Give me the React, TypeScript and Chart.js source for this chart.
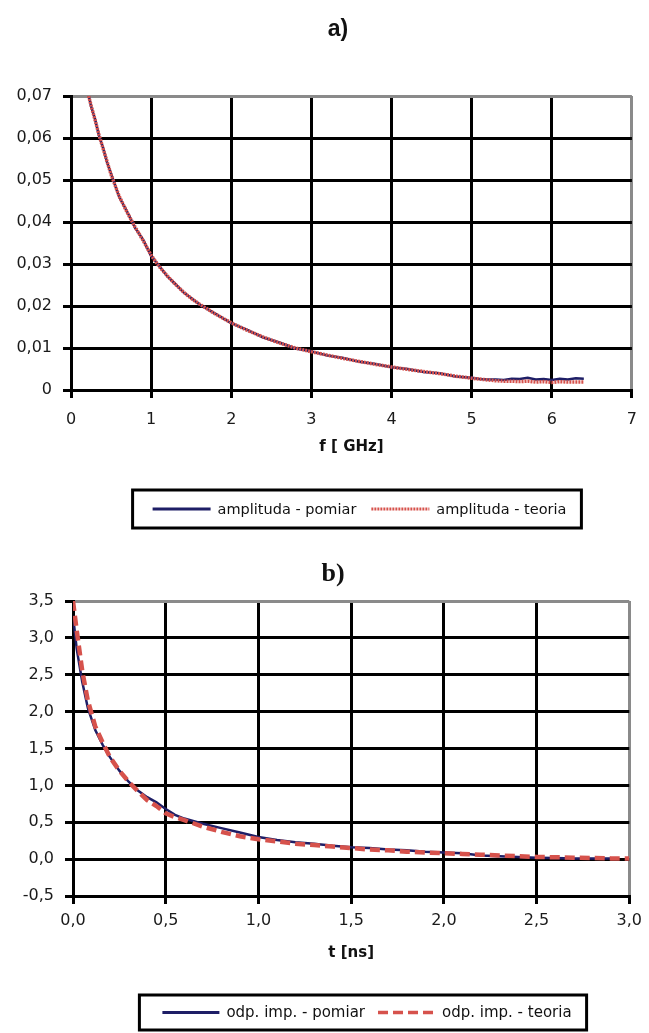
import React, { useEffect, useRef } from 'react';
import { Chart, registerables } from 'chart.js';

Chart.register(...registerables);

// ---------- Chart a) data ----------
const titleA = 'a)';
const xTitleA = 'f [ GHz]';
const seriesNamesA = ['amplituda - pomiar', 'amplituda - teoria'];
const freqGHz = [
  0.22, 0.25, 0.3, 0.35, 0.4, 0.45, 0.5, 0.6, 0.7, 0.8, 0.9, 1.0, 1.1, 1.2, 1.3, 1.4, 1.5, 1.6, 1.8, 2.0,
  2.2, 2.4, 2.6, 2.8, 3.0, 3.2, 3.4, 3.6, 3.8, 4.0, 4.2, 4.4, 4.6, 4.8, 5.0, 5.1, 5.2, 5.3, 5.4, 5.5,
  5.6, 5.7, 5.8, 5.9, 6.0, 6.1, 6.2, 6.3, 6.4,
];
const ampMeasured = [
  0.0702, 0.0676, 0.0645, 0.0605, 0.0577, 0.0542, 0.0515, 0.0460, 0.0425, 0.0386, 0.0358, 0.0319, 0.0296, 0.0271, 0.0253, 0.0233, 0.0219, 0.0204, 0.0182, 0.0159,
  0.0143, 0.0125, 0.0113, 0.0099, 0.0092, 0.0082, 0.0076, 0.0067, 0.0062, 0.0054, 0.0050, 0.0043, 0.0040, 0.0032, 0.0029, 0.0026, 0.0025, 0.0025, 0.0024, 0.0027,
  0.0026, 0.0029, 0.0025, 0.0026, 0.0024, 0.0027, 0.0025, 0.0028, 0.0027,
];
const ampTheory = [
  0.0700, 0.0678, 0.0643, 0.0607, 0.0575, 0.0544, 0.0513, 0.0462, 0.0423, 0.0388, 0.0356, 0.0321, 0.0294, 0.0272, 0.0252, 0.0234, 0.0218, 0.0205, 0.0181, 0.0160,
  0.0142, 0.0126, 0.0112, 0.0100, 0.0091, 0.0083, 0.0075, 0.0068, 0.0061, 0.0055, 0.0049, 0.0044, 0.0039, 0.0033, 0.0028, 0.0026, 0.0024, 0.0022, 0.0021, 0.0021,
  0.0020, 0.0021, 0.0019, 0.0020, 0.0018, 0.0020, 0.0019, 0.0019, 0.0019,
];
const xTicksA = ['0', '1', '2', '3', '4', '5', '6', '7'];
const yTicksA = ['0', '0,01', '0,02', '0,03', '0,04', '0,05', '0,06', '0,07'];

// ---------- Chart b) data ----------
const titleB = 'b)';
const xTitleB = 't [ns]';
const seriesNamesB = ['odp. imp. - pomiar', 'odp. imp. - teoria'];
const timeMeasured = [
  0.0, 0.02, 0.05, 0.08, 0.12, 0.16, 0.2, 0.25, 0.3, 0.35, 0.4, 0.45, 0.5, 0.55, 0.6, 0.7, 0.8, 0.9, 1.0, 1.1,
  1.2, 1.3, 1.4, 1.5, 1.6, 1.7, 1.8, 1.9, 2.0, 2.1, 2.2, 2.3, 2.4, 2.5, 2.6, 2.7, 2.8, 2.9,
];
const impMeasured = [
  3.3, 2.85, 2.4, 2.05, 1.75, 1.55, 1.38, 1.2, 1.05, 0.93, 0.84, 0.77, 0.68, 0.6, 0.55, 0.48, 0.42, 0.36, 0.3, 0.26,
  0.23, 0.21, 0.18, 0.16, 0.15, 0.13, 0.12, 0.1, 0.09, 0.08, 0.05, 0.04, 0.03, 0.02, 0.015, 0.01, 0.01, 0.01,
];
const timeTheory = [
  0.0, 0.02, 0.05, 0.08, 0.12, 0.16, 0.2, 0.25, 0.3, 0.35, 0.4, 0.45, 0.5, 0.55, 0.6, 0.7, 0.8, 0.9, 1.0, 1.1,
  1.2, 1.3, 1.4, 1.5, 1.6, 1.7, 1.8, 1.9, 2.0, 2.1, 2.2, 2.3, 2.4, 2.5, 2.6, 2.7, 2.8, 2.9, 3.0,
];
const impTheory = [
  3.5, 3.1, 2.55, 2.15, 1.8, 1.58, 1.38, 1.2, 1.05, 0.92, 0.8, 0.72, 0.62, 0.57, 0.53, 0.44, 0.37, 0.31, 0.27, 0.24,
  0.21, 0.19, 0.17, 0.15, 0.13, 0.12, 0.1, 0.09, 0.08, 0.07, 0.06, 0.05, 0.04, 0.03, 0.025, 0.02, 0.015, 0.01, 0.01,
];
const xTicksB = ['0,0', '0,5', '1,0', '1,5', '2,0', '2,5', '3,0'];
const yTicksB = ['-0,5', '0,0', '0,5', '1,0', '1,5', '2,0', '2,5', '3,0', '3,5'];

// ---------- styling ----------
const NAVY = '#1e1e66';
const RED = '#d6524c';
const TICK_FONT = { family: '"DejaVu Sans", sans-serif', size: 16 };
const AXIS_TITLE_FONT = { family: '"DejaVu Sans", sans-serif', size: 15, weight: 'bold' as const };

const panelTitle = {
  id: 'panelTitle',
  afterDraw(chart: any, _args: any, opts: any) {
    const { ctx } = chart;
    ctx.save();
    ctx.font = opts.font;
    ctx.fillStyle = '#111';
    ctx.textAlign = 'center';
    ctx.textBaseline = 'middle';
    ctx.fillText(opts.text, opts.x, opts.y);
    ctx.restore();
  },
};

const boxedLegend = {
  id: 'boxedLegend',
  afterDraw(chart: any, _args: any, opts: any) {
    const { ctx } = chart;
    ctx.save();
    ctx.font = opts.font;
    const items = chart.data.datasets.map((ds: any) => ({
      text: ds.label,
      color: ds.borderColor,
      dash: ds.borderDash || [],
      lw: ds.legendWidth || ds.borderWidth,
    }));
    const widths = items.map((it: any) => ctx.measureText(it.text).width);
    let total = opts.padL + opts.padR;
    items.forEach((_it: any, i: number) => {
      total += opts.sampleW + opts.gap + widths[i];
      if (i > 0) total += opts.itemGap;
    });
    const left = opts.centerX - total / 2;
    ctx.lineWidth = 3;
    ctx.strokeStyle = '#000';
    ctx.setLineDash([]);
    ctx.strokeRect(left, opts.top, total, opts.height);
    const cy = opts.top + opts.height / 2;
    let x = left + opts.padL;
    items.forEach((it: any, i: number) => {
      ctx.beginPath();
      ctx.setLineDash(it.dash);
      ctx.strokeStyle = it.color;
      ctx.lineWidth = it.lw;
      ctx.moveTo(x, cy);
      ctx.lineTo(x + opts.sampleW, cy);
      ctx.stroke();
      ctx.setLineDash([]);
      x += opts.sampleW + opts.gap;
      ctx.fillStyle = '#111';
      ctx.textBaseline = 'middle';
      ctx.textAlign = 'left';
      ctx.fillText(it.text, x, cy + 1);
      x += widths[i] + opts.itemGap;
    });
    ctx.restore();
  },
};

function axisOptions(
  xMin: number, xMax: number, xStep: number, xLabels: string[], xTitle: string,
  yMin: number, yMax: number, yStep: number, yLabels: string[],
  yWidth: number, xHeight: number, xPad: number,
) {
  return {
    x: {
      type: 'linear' as const,
      min: xMin,
      max: xMax,
      afterFit: (s: any) => { s.height = xHeight; },
      ticks: {
        stepSize: xStep,
        color: '#1a1a1a',
        font: TICK_FONT,
        padding: xPad,
        maxRotation: 0,
        callback: (_v: any, i: number) => xLabels[i],
      },
      grid: {
        color: (c: any) => (c.index === xLabels.length - 1 ? '#8a8a8a' : '#000'),
        lineWidth: 3,
        tickColor: '#000',
        tickLength: 8,
        tickWidth: 3,
      },
      border: { display: true, color: '#000', width: 3 },
      title: { display: true, text: xTitle, color: '#111', font: AXIS_TITLE_FONT, padding: { top: 4, bottom: 4 } },
    },
    y: {
      type: 'linear' as const,
      min: yMin,
      max: yMax,
      afterFit: (s: any) => { s.width = yWidth; },
      ticks: {
        stepSize: yStep,
        color: '#1a1a1a',
        font: TICK_FONT,
        padding: 11,
        callback: (_v: any, i: number) => yLabels[i],
      },
      grid: {
        color: (c: any) => (c.index === yLabels.length - 1 ? '#8a8a8a' : '#000'),
        lineWidth: 3,
        tickColor: '#000',
        tickLength: 8,
        tickWidth: 3,
      },
      border: { display: true, color: '#000', width: 3 },
    },
  };
}

function toPoints(xs: number[], ys: number[]) {
  return xs.map((x, i) => ({ x, y: ys[i] }));
}

export default function App() {
  const refA = useRef<HTMLCanvasElement>(null);
  const refB = useRef<HTMLCanvasElement>(null);

  useEffect(() => {
    const chartA = new Chart(refA.current as HTMLCanvasElement, {
      type: 'line',
      data: {
        datasets: [
          {
            label: seriesNamesA[0],
            data: toPoints(freqGHz, ampMeasured),
            borderColor: NAVY,
            borderWidth: 2.5,
            pointRadius: 0,
            tension: 0,
            order: 2,
            legendWidth: 3,
          } as any,
          {
            label: seriesNamesA[1],
            data: toPoints(freqGHz, ampTheory),
            borderColor: RED,
            borderWidth: 3.5,
            borderDash: [2, 1],
            pointRadius: 0,
            tension: 0,
            order: 1,
            legendWidth: 3,
          } as any,
        ],
      },
      options: {
        responsive: false,
        animation: false,
        layout: { padding: { left: 0, right: 14, top: 96, bottom: 85 } },
        plugins: {
          legend: { display: false },
          tooltip: { enabled: false },
          title: { display: false },
          panelTitle: {
            text: titleA,
            x: 338,
            y: 30,
            font: 'bold 23px "Liberation Sans", sans-serif',
          },
          boxedLegend: {
            font: '14.5px "DejaVu Sans", sans-serif',
            top: 490, height: 38, centerX: 357,
            sampleW: 58, gap: 7, itemGap: 15, padL: 20, padR: 15,
          },
        } as any,
        scales: axisOptions(0, 7, 1, xTicksA, xTitleA, 0, 0.07, 0.01, yTicksA, 71, 70, 12) as any,
      },
      plugins: [panelTitle, boxedLegend],
    });

    const chartB = new Chart(refB.current as HTMLCanvasElement, {
      type: 'line',
      data: {
        datasets: [
          {
            label: seriesNamesB[0],
            data: toPoints(timeMeasured, impMeasured),
            borderColor: NAVY,
            borderWidth: 2.5,
            pointRadius: 0,
            tension: 0,
            order: 2,
            legendWidth: 3,
          } as any,
          {
            label: seriesNamesB[1],
            data: toPoints(timeTheory, impTheory),
            borderColor: RED,
            borderWidth: 4.5,
            borderDash: [10, 5],
            pointRadius: 0,
            tension: 0,
            order: 1,
            legendWidth: 3.5,
          } as any,
        ],
      },
      options: {
        responsive: false,
        animation: false,
        layout: { padding: { left: 0, right: 15, top: 56, bottom: 67 } },
        plugins: {
          legend: { display: false },
          tooltip: { enabled: false },
          title: { display: false },
          panelTitle: {
            text: titleB,
            x: 333,
            y: 29,
            font: 'bold 26px "Liberation Serif", serif',
          },
          boxedLegend: {
            font: '15px "DejaVu Sans", sans-serif',
            top: 450, height: 35, centerX: 363,
            sampleW: 57, gap: 7, itemGap: 13, padL: 23, padR: 15,
          },
        } as any,
        scales: axisOptions(0, 3, 0.5, xTicksB, xTitleB, -0.5, 3.5, 0.5, yTicksB, 73, 70, 7) as any,
      },
      plugins: [panelTitle, boxedLegend],
    });

    return () => {
      chartA.destroy();
      chartB.destroy();
    };
  }, []);

  return (
    <div style={{ position: 'absolute', left: 0, top: 0, width: 649, height: 1033, background: '#fff' }}>
      <canvas ref={refA} width={649} height={545} style={{ display: 'block', position: 'absolute', left: 0, top: 0 }} />
      <canvas ref={refB} width={649} height={488} style={{ display: 'block', position: 'absolute', left: 0, top: 545 }} />
    </div>
  );
}
